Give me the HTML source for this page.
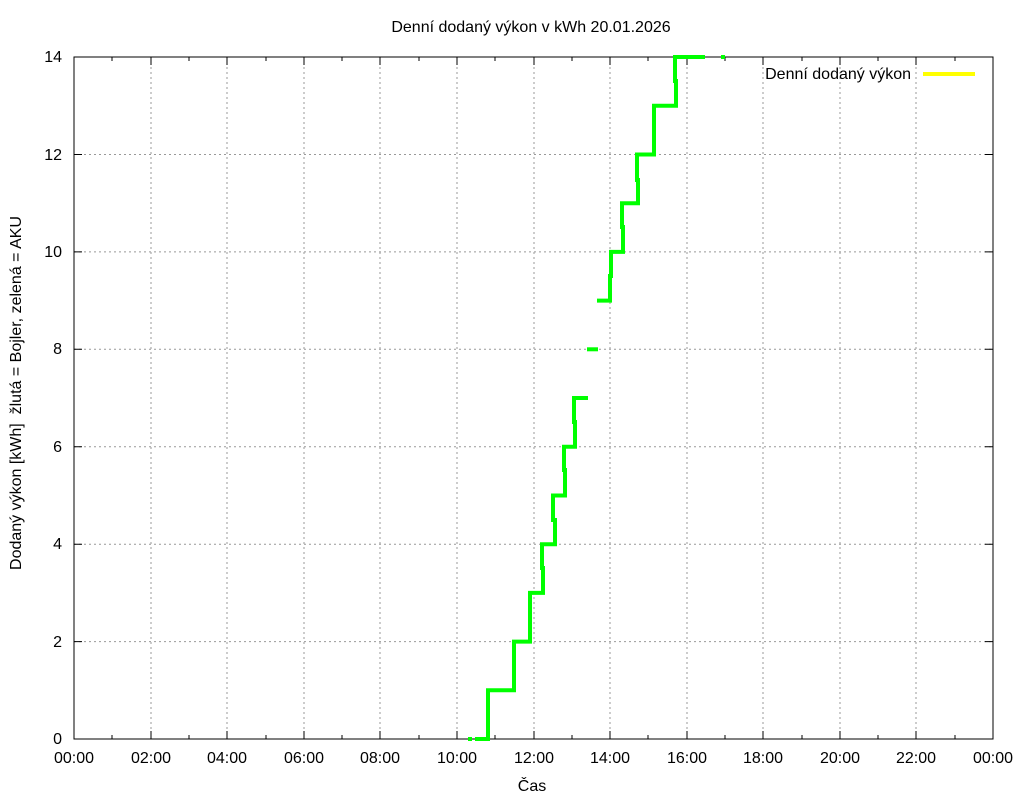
<!DOCTYPE html>
<html><head><meta charset="utf-8"><style>body{margin:0;background:#fff}</style></head><body>
<svg width="1024" height="800" xmlns="http://www.w3.org/2000/svg" font-family="Liberation Sans, sans-serif" font-size="16">
<rect width="1024" height="800" fill="#fff"/>
<g stroke="#999" stroke-width="1" stroke-dasharray="2,3">
<line x1="151" y1="57" x2="151" y2="739"/><line x1="227" y1="57" x2="227" y2="739"/><line x1="304" y1="57" x2="304" y2="739"/><line x1="380" y1="57" x2="380" y2="739"/><line x1="457" y1="57" x2="457" y2="739"/><line x1="534" y1="57" x2="534" y2="739"/><line x1="610" y1="57" x2="610" y2="739"/><line x1="687" y1="57" x2="687" y2="739"/><line x1="763" y1="57" x2="763" y2="739"/><line x1="840" y1="57" x2="840" y2="739"/><line x1="916" y1="57" x2="916" y2="739"/>
<line x1="74" y1="641.6" x2="993" y2="641.6"/><line x1="74" y1="544.2" x2="993" y2="544.2"/><line x1="74" y1="446.7" x2="993" y2="446.7"/><line x1="74" y1="349.3" x2="993" y2="349.3"/><line x1="74" y1="251.9" x2="993" y2="251.9"/><line x1="74" y1="154.5" x2="993" y2="154.5"/>
</g>
<rect x="74" y="57" width="919" height="682" fill="none" stroke="#000" stroke-width="1"/>
<g stroke="#000" stroke-width="1">
<path d="M74 739v-8M151 739v-8M227 739v-8M304 739v-8M380 739v-8M457 739v-8M534 739v-8M610 739v-8M687 739v-8M763 739v-8M840 739v-8M916 739v-8M993 739v-8"/>
<path d="M74 57v8M151 57v8M227 57v8M304 57v8M380 57v8M457 57v8M534 57v8M610 57v8M687 57v8M763 57v8M840 57v8M916 57v8M993 57v8"/>
<path d="M112 739v-4M189 739v-4M266 739v-4M342 739v-4M419 739v-4M495 739v-4M572 739v-4M648 739v-4M725 739v-4M802 739v-4M878 739v-4M955 739v-4"/>
<path d="M112 57v4M189 57v4M266 57v4M342 57v4M419 57v4M495 57v4M572 57v4M648 57v4M725 57v4M802 57v4M878 57v4M955 57v4"/>
<path d="M74 739h8M74 641.6h8M74 544.2h8M74 446.7h8M74 349.3h8M74 251.9h8M74 154.5h8M74 57h8"/>
<path d="M993 739h-8M993 641.6h-8M993 544.2h-8M993 446.7h-8M993 349.3h-8M993 251.9h-8M993 154.5h-8M993 57h-8"/>
</g>
<g fill="#000" text-anchor="end">
<text x="62" y="744">0</text><text x="62" y="647">2</text><text x="62" y="549">4</text><text x="62" y="452">6</text><text x="62" y="354">8</text><text x="62" y="257">10</text><text x="62" y="160">12</text><text x="62" y="62">14</text>
</g>
<g fill="#000" text-anchor="middle">
<text x="74" y="763">00:00</text><text x="151" y="763">02:00</text><text x="227" y="763">04:00</text><text x="304" y="763">06:00</text><text x="380" y="763">08:00</text><text x="457" y="763">10:00</text><text x="534" y="763">12:00</text><text x="610" y="763">14:00</text><text x="687" y="763">16:00</text><text x="763" y="763">18:00</text><text x="840" y="763">20:00</text><text x="916" y="763">22:00</text><text x="993" y="763">00:00</text>
<text x="532" y="791">Čas</text>
<text x="531" y="32">Denní dodaný výkon v kWh 20.01.2026</text>
<text transform="translate(21,393) rotate(-90)">Dodaný výkon [kWh]&#160; žlutá = Bojler, zelená = AKU</text>
</g>
<text x="911" y="79" text-anchor="end" fill="#000">Denní dodaný výkon</text>
<line x1="923" y1="74" x2="975" y2="74" stroke="#ffff00" stroke-width="4"/>
<g fill="none" stroke="#00ff00" stroke-width="4">
<path d="M468 739h4"/>
<path d="M475 739H488V690.3H514V641.6H530V592.9H543V568H542V544.2H555V520H553V495.5H565V470H564V446.7H575V422H574V398H588"/>
<path d="M587 349.3H598"/>
<path d="M597 300.6H610V276H611V251.9H623V227H622V203.2H638V180H637V154.5H654V105.8H676V81H675V57H705"/>
<path d="M721 57h4"/>
</g>
</svg>
</body></html>
